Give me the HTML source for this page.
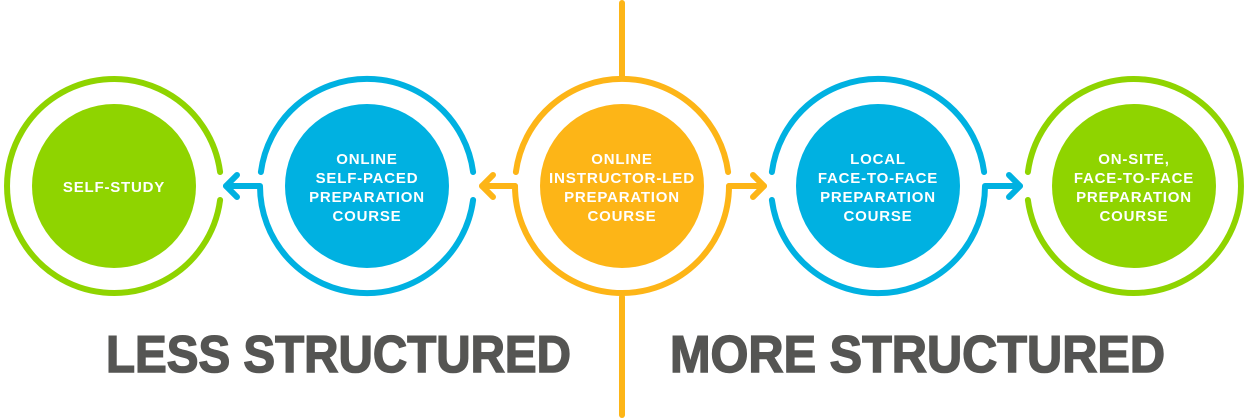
<!DOCTYPE html>
<html><head><meta charset="utf-8"><style>
html,body{margin:0;padding:0;background:#fff;}
svg{display:block;}
text{font-family:"Liberation Sans",sans-serif;font-weight:bold;}
</style></head><body>
<svg width="1246" height="419" viewBox="0 0 1246 419" xmlns="http://www.w3.org/2000/svg">
<g fill="none" stroke-width="6" stroke-linecap="round" stroke-linejoin="round">
<line x1="622" y1="3" x2="622" y2="76" stroke="#fdb517"/>
<line x1="622" y1="297" x2="622" y2="415" stroke="#fdb517"/>

<!-- Green left 114 -->
<path d="M 220.1 172 A 107 107 0 1 0 220.1 200" stroke="#8fd400"/>
<!-- Blue 367 -->
<path d="M 260.9 172 A 107 107 0 0 1 473.1 172" stroke="#00b1e1"/>
<path d="M 473.1 200 A 107 107 0 0 1 260 186 L 226 186" stroke="#00b1e1"/>
<path d="M 237 175 L 226 186 L 237 197" stroke="#00b1e1"/>
<!-- Orange 622 -->
<path d="M 515.9 172 A 107 107 0 0 1 728.1 172" stroke="#fdb517"/>
<path d="M 729 186 A 107 107 0 0 1 515 186" stroke="#fdb517"/>
<path d="M 515 186 L 482 186" stroke="#fdb517"/>
<path d="M 493 175 L 482 186 L 493 197" stroke="#fdb517"/>
<path d="M 729 186 L 764 186" stroke="#fdb517"/>
<path d="M 753 175 L 764 186 L 753 197" stroke="#fdb517"/>
<!-- Blue 878 -->
<path d="M 771.9 172 A 107 107 0 0 1 984.1 172" stroke="#00b1e1"/>
<path d="M 771.9 200 A 107 107 0 0 0 985 186 L 1020 186" stroke="#00b1e1"/>
<path d="M 1009 175 L 1020 186 L 1009 197" stroke="#00b1e1"/>
<!-- Green right 1134 -->
<path d="M 1027.9 172 A 107 107 0 1 1 1027.9 200" stroke="#8fd400"/>
</g>
<circle cx="114" cy="186" r="82" fill="#8fd400"/>
<circle cx="367" cy="186" r="82" fill="#00b1e1"/>
<circle cx="622" cy="186" r="82" fill="#fdb517"/>
<circle cx="878" cy="186" r="82" fill="#00b1e1"/>
<circle cx="1134" cy="186" r="82" fill="#8fd400"/>
<g fill="#fff" font-size="15" text-anchor="middle" letter-spacing="0.8">
<text x="114" y="192">SELF-STUDY</text>
<text x="367" y="164">ONLINE</text><text x="367" y="183">SELF-PACED</text><text x="367" y="202">PREPARATION</text><text x="367" y="221">COURSE</text>
<text x="622" y="164">ONLINE</text><text x="622" y="183" textLength="146" lengthAdjust="spacingAndGlyphs">INSTRUCTOR-LED</text><text x="622" y="202">PREPARATION</text><text x="622" y="221">COURSE</text>
<text x="878" y="164">LOCAL</text><text x="878" y="183">FACE-TO-FACE</text><text x="878" y="202">PREPARATION</text><text x="878" y="221">COURSE</text>
<text x="1134" y="164">ON-SITE,</text><text x="1134" y="183">FACE-TO-FACE</text><text x="1134" y="202">PREPARATION</text><text x="1134" y="221">COURSE</text>
</g>
<g fill="#555553" font-size="52" stroke="#555553" stroke-width="1.5">
<text x="106" y="372" textLength="465" lengthAdjust="spacingAndGlyphs">LESS STRUCTURED</text>
<text x="670" y="372" textLength="495" lengthAdjust="spacingAndGlyphs">MORE STRUCTURED</text>
</g>
</svg>
</body></html>
